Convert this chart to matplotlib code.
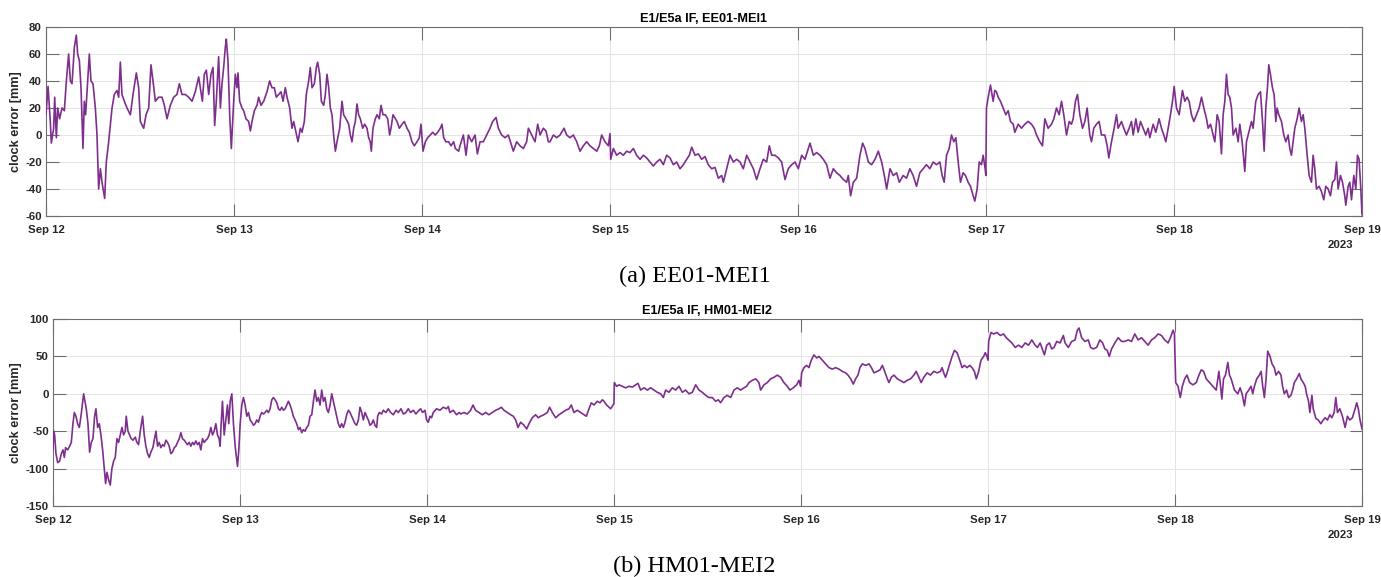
import matplotlib
matplotlib.use("Agg")
import matplotlib.pyplot as plt
import matplotlib.dates as mdates
from datetime import datetime, timedelta

# ---------------------------------------------------------------------------
# Clock error series, E1/E5a ionosphere-free, hours since 2023-09-12 00:00
# ---------------------------------------------------------------------------
start_date = datetime(2023, 9, 12)
n_days = 7
day_labels_fmt = "%b %d"
year_label = "2023"

# EE01-MEI1
ee01_hours = [
    0.0, 0.26, 0.55, 0.68, 0.98, 1.11, 1.32, 1.49, 1.74, 2.04,
    2.34, 2.60, 2.89, 3.11, 3.32, 3.62, 3.87, 4.04, 4.26, 4.47,
    4.72, 4.89, 5.06, 5.32, 5.53, 5.74, 6.0, 6.3, 6.51, 6.72,
    6.94, 7.15, 7.49, 7.70, 8.0, 8.43, 8.72, 9.06, 9.28, 9.49,
    9.70, 10.0, 10.34, 10.77, 11.11, 11.53, 11.83, 12.04, 12.47, 12.77,
    13.11, 13.40, 13.66, 13.96, 14.38, 14.81, 15.11, 15.45, 15.87, 16.3,
    16.72, 17.02, 17.36, 17.79, 18.21, 18.64, 19.06, 19.49, 19.70, 19.96,
    20.21, 20.47, 20.77, 21.06, 21.32, 21.53, 21.74, 22.04, 22.26, 22.47,
    22.68, 22.89, 23.02, 23.23, 23.45, 23.66, 23.96, 24.17, 24.38, 24.51,
    24.72, 25.02, 25.23, 25.53, 25.87, 26.09, 26.3, 26.6, 26.94, 27.15,
    27.45, 27.79, 28.21, 28.55, 28.85, 29.15, 29.40, 29.70, 30.0, 30.26,
    30.55, 30.77, 31.11, 31.40, 31.62, 31.91, 32.17, 32.47, 32.68, 32.98,
    33.23, 33.53, 33.74, 33.96, 34.26, 34.51, 34.68, 34.94, 35.15, 35.45,
    35.66, 35.87, 36.09, 36.3, 36.51, 36.72, 36.94, 37.15, 37.49, 37.79,
    38.0, 38.3, 38.64, 38.85, 39.06, 39.28, 39.49, 39.70, 39.91, 40.13,
    40.43, 40.68, 40.98, 41.19, 41.40, 41.53, 41.74, 42.04, 42.26, 42.55,
    42.77, 43.02, 43.32, 43.62, 43.87, 44.04, 44.30, 44.60, 44.81, 45.11,
    45.45, 45.74, 46.09, 46.38, 46.72, 47.02, 47.36, 47.66, 47.87, 48.13,
    48.43, 48.72, 49.06, 49.36, 49.70, 50.0, 50.34, 50.55, 50.77, 51.06,
    51.40, 51.70, 52.04, 52.26, 52.68,
    52.85, 53.28, 53.62, 53.92, 54.34, 54.77, 55.07, 55.41, 55.83, 56.26,
    56.68, 57.02, 57.45, 57.75, 58.17, 58.6, 59.02, 59.45, 59.66, 60.09,
    60.51, 60.94, 61.36, 61.58, 62.0, 62.43, 62.77, 63.07, 63.49, 63.83,
    64.13, 64.34, 64.77, 65.19, 65.62, 66.13, 66.47, 66.89, 67.32, 67.75,
    68.17, 68.60, 69.02, 69.45, 69.87, 70.3, 70.64, 70.94, 71.36, 71.79,
    72.0, 72.09, 72.43, 72.85, 73.28, 73.70, 74.13, 74.55, 74.98, 75.40,
    75.83, 76.26, 76.68, 77.11, 77.53, 77.96, 78.38, 78.81, 79.23, 79.66,
    80.09, 80.51, 80.94, 81.36, 81.79, 82.13, 82.43, 82.85, 83.28, 83.70,
    84.13, 84.55, 84.98, 85.40, 85.83, 86.26, 86.47, 86.89, 87.32, 87.74,
    88.17, 88.6, 89.02, 89.45, 89.87, 90.30, 90.72, 91.15, 91.57, 92.0,
    92.34, 92.64, 93.06, 93.49, 93.91, 94.34, 94.76, 95.19, 95.62, 96.04,
    96.47, 96.89, 97.32, 97.53, 97.96, 98.38, 98.81, 99.23, 99.66, 100.08,
    100.51, 100.93, 101.36, 101.79, 102.21, 102.42, 102.72, 103.06, 103.49, 103.91,
    104.25, 104.55, 104.98, 105.40, 105.83, 106.25, 106.68, 107.02, 107.32, 107.74,
    108.17, 108.59, 108.93,
    109.43, 109.85, 110.28, 110.70, 111.13, 111.55, 111.98, 112.40, 112.83, 113.26,
    113.68, 114.11, 114.40, 114.66, 114.96, 115.30, 115.60, 115.89, 116.15, 116.45,
    116.74, 117.08, 117.38, 117.72, 118.02, 118.36, 118.57, 118.87, 119.13, 119.42,
    119.64, 119.89, 119.98, 120.06, 120.28, 120.57, 120.91, 121.13, 121.34, 121.55,
    121.85, 122.19, 122.53, 122.83, 123.13, 123.47, 123.68, 124.11, 124.53, 124.96,
    125.38, 125.81, 126.15, 126.45, 126.87, 127.21, 127.51, 127.93, 128.36, 128.66,
    129.0, 129.34, 129.64, 129.93, 130.28, 130.62, 130.91, 131.13, 131.42, 131.68,
    131.98, 132.32, 132.62, 132.91, 133.25, 133.47, 133.76, 134.10, 134.44, 134.74,
    135.17, 135.47, 135.68, 136.02, 136.36, 136.66, 136.87, 137.30, 137.59, 137.93,
    138.27, 138.57, 138.79, 139.13, 139.42, 139.72, 140.06, 140.40, 140.70, 140.91,
    141.34, 141.68, 142.10, 142.40, 142.70, 142.96, 143.25, 143.55, 143.81, 144.02,
    144.32, 144.66, 145.08, 145.38, 145.68, 145.93, 146.23, 146.53, 146.87, 147.21,
    147.51, 147.81, 148.15, 148.36, 148.66, 149.0, 149.21, 149.51, 149.76, 150.06,
    150.27, 150.49, 150.70, 150.91, 151.12, 151.34, 151.55, 151.89, 152.19, 152.40,
    152.70, 153.04, 153.25, 153.46, 153.68, 153.89, 154.10, 154.44, 154.74, 155.04,
    155.30, 155.51, 155.72, 155.93, 156.10, 156.31, 156.57, 156.78, 157.0, 157.16,
    157.38, 157.72, 158.02, 158.27, 158.57, 158.78, 158.99, 159.21, 159.42, 159.72,
    159.97, 160.27, 160.49, 160.70, 161.0, 161.25, 161.55, 161.76, 161.97, 162.19,
    162.53, 162.83, 163.12, 163.38, 163.68, 163.97, 164.23, 164.53, 164.74, 164.95,
    165.25, 165.51, 165.80, 165.93, 166.23, 166.44, 166.66, 166.95, 167.21, 167.42,
    167.63, 167.85, 168.0,
]
ee01_mm = [
    15, 36, 10, -6, 5, 28, -2, 20, 12, 20,
    18, 40, 60, 40, 38, 65, 74, 60, 55, 35,
    -10, 25, 15, 40, 60, 40, 38, 20, 0, -40,
    -25, -35, -47, -20, -5, 20, 30, 33, 28, 54,
    30, 25, 20, 15, 30, 46, 35, 10, 5, 15,
    20, 52, 40, 25, 28, 28, 22, 12, 22, 28,
    30, 38, 30, 30, 28, 25, 32, 43, 35, 25,
    45, 48, 30, 45, 50, 7, 25, 58, 20, 38,
    50, 65, 71, 55, 15, -10, 25, 45, 35, 46,
    25, 20, 18, 12, 10, 3, 10, 18, 22, 28,
    22, 25, 32, 40, 35, 35, 28, 30, 32, 25,
    35, 28, 20, 5, 10, 2, -5, 5, 2, 10,
    30, 40, 50, 35, 38, 50, 54, 45, 25, 22,
    30, 45, 35, 20, 15, 0, -12, -5, 5, 25,
    15, 12, 8, 0, -5, 5, 10, 23, 15, 12,
    5, 8, 5, -2, -5, -12, 5, 12, 15, 12,
    22, 15, 15, 12, 0, 5, 15, 12, 10, 5,
    8, 10, 5, 2, -5, -8, -5, -2, 8, -12,
    -5, -2, 0, 2, 0, 2, 5, 8, -2, -5,
    -5, -8, -5, -10, -12,
    -8, 0, -15, 0, -5, 0, -14, -5, -5, 0,
    5, 10, 13, 5, 0, -2, 0, -8, -12, -5,
    -8, -10, -5, 5, 0, -5, 8, 0, 5, 3,
    -5, -5, 0, -2, 0, 5, 0, -2, 0, -5,
    -12, -8, -5, -8, -10, -12, -8, 0, -5, -8,
    1, -18, -10, -15, -13, -15, -12, -13, -10, -15,
    -18, -15, -17, -20, -23, -20, -18, -22, -15, -17,
    -22, -20, -25, -22, -18, -15, -9, -15, -14, -18,
    -16, -22, -25, -24, -32, -30, -35, -25, -15, -20,
    -18, -20, -25, -15, -20, -25, -33, -25, -18, -20,
    -8, -15, -15, -17, -20, -33, -25, -22, -20, -25,
    -15, -18, -10, -6, -15, -13, -15, -18, -22, -32,
    -25, -28, -30, -33, -35, -30, -45, -35, -32, -15,
    -6, -10, -20, -22, -18, -12, -20, -30, -40, -25,
    -30, -28, -35,
    -30, -32, -25, -30, -38, -28, -25, -22, -25, -20,
    -22, -20, -30, -35, -15, -10, 0, -5, -2, -20,
    -35, -28, -30, -35, -38, -45, -49, -40, -20, -22,
    -15, -25, -30, 20, 28, 37, 25, 33, 32, 28,
    25, 20, 15, 18, 10, 8, 2, 8, 5, 8,
    10, 8, 5, 0, -5, -8, 12, 5, 8, 12,
    20, 15, 25, 15, 0, 10, 8, 12, 25, 30,
    15, 5, 10, 20, 0, -5, 5, 8, 10, 0,
    0, -8, -17, -5, 5, 15, 5, 10, 5, 0,
    5, 10, 0, 12, 2, 10, 5, 0, 5, -2,
    8, 2, 12, 5, 0, -5, 5, 15, 25, 36,
    20, 15, 33, 25, 28, 25, 15, 10, 15, 20,
    28, 20, 12, 5, 8, 0, -5, 15, 10, -14,
    15, 25, 45, 30, 28, 20, 0, 5, -5, 8,
    -5, -27, -5, 0, 5, 10, 5, 25, 30, 32,
    10, -12, 20, 35, 52, 45, 35, 30, 10, 20,
    15, 10, 0, -5, 0, -10, -15, -5, 5, 12,
    20, 10, 15, 5, -15, -30, -35, -15, -25, -40,
    -38, -42, -48, -38, -40, -45, -35, -33, -20, -40,
    -30, -35, -45, -52, -38, -35, -48, -30, -40, -15,
    -18, -40, -59,
]

# HM01-MEI2
hm01_hours = [
    0.0, 0.09, 0.21, 0.38, 0.60, 0.85, 1.07, 1.28, 1.45, 1.62,
    1.88, 2.14, 2.35, 2.56, 2.74, 2.95, 3.16, 3.38, 3.59, 3.76,
    3.93, 4.10, 4.27, 4.49, 4.70, 4.91, 5.13, 5.34, 5.51, 5.73,
    5.94, 6.15, 6.37, 6.58, 6.75, 6.92, 7.14, 7.35, 7.56, 7.78,
    7.99, 8.21, 8.42, 8.63, 8.85, 9.06, 9.27, 9.40, 9.62, 9.83,
    10.04, 10.26, 10.56, 10.77, 10.98, 11.20, 11.50, 11.71, 11.92, 12.14,
    12.35, 12.56, 12.82, 13.03, 13.21, 13.42, 13.63, 13.85, 14.06, 14.27,
    14.49, 14.70, 14.91, 15.13, 15.34, 15.56, 15.77, 15.98, 16.20, 16.41,
    16.62, 16.84, 17.05, 17.26, 17.48, 17.69, 17.91, 18.12, 18.33, 18.55,
    18.76, 18.97, 19.19, 19.40, 19.62, 19.83, 20.04, 20.26, 20.47, 20.68,
    20.90, 21.11, 21.32, 21.45, 21.58, 21.75, 21.97, 22.18, 22.39, 22.56,
    22.74, 22.95, 23.16, 23.38, 23.55, 23.68, 23.85, 24.02, 24.23, 24.44,
    24.66, 24.87, 25.09, 25.30, 25.51, 25.73, 25.94, 26.15, 26.37, 26.58,
    26.79, 27.01, 27.22, 27.44, 27.65, 27.86, 28.08, 28.29, 28.50, 28.72,
    28.93, 29.15, 29.36, 29.57, 29.79, 30.0, 30.21, 30.43, 30.64, 30.85,
    31.07, 31.28, 31.50, 31.71, 31.92, 32.14, 32.35, 32.56, 32.78, 32.99,
    33.21, 33.42, 33.63, 33.85, 34.06, 34.27, 34.49, 34.70, 34.91, 35.13,
    35.34, 35.56, 35.77, 35.98, 36.20, 36.41, 36.62, 36.84, 37.05, 37.26,
    37.48, 37.69, 37.91, 38.12, 38.33, 38.55, 38.76, 38.97, 39.19, 39.40,
    39.62, 39.83, 40.04, 40.26, 40.47, 40.68, 40.90, 41.11, 41.32, 41.54,
    41.67, 41.88, 42.18, 42.39, 42.74, 43.03, 43.33, 43.68, 44.02, 44.32,
    44.66, 44.96, 45.30, 45.60, 45.90, 46.24, 46.58, 46.88, 47.18, 47.44,
    47.74, 47.95, 48.16, 48.38, 48.59, 48.80, 49.23, 49.66, 50.09, 50.51,
    50.73, 50.94, 51.37, 51.79, 52.14,
    52.32, 52.74, 53.17, 53.60, 53.90, 54.24, 54.67, 55.10, 55.53, 55.95,
    56.38, 56.81, 57.24, 57.54, 57.88, 58.31, 58.73, 59.08, 59.38, 59.68,
    60.02, 60.45, 60.79, 61.09, 61.51, 61.94, 62.28, 62.58, 63.01, 63.44,
    63.74, 64.08, 64.51, 64.94, 65.36, 65.79, 66.22, 66.52, 66.86, 67.29,
    67.72, 68.15, 68.45, 68.79, 69.09, 69.43, 69.86, 70.20, 70.50, 70.71,
    71.05, 71.35, 71.57, 71.87, 72.0, 72.04, 72.34, 72.64, 73.07, 73.49,
    73.92, 74.35, 74.78, 75.08, 75.42, 75.85, 76.28, 76.70, 77.13, 77.56,
    77.99, 78.33, 78.63, 79.05, 79.48, 79.91, 80.34, 80.77, 81.19, 81.62,
    82.05, 82.48, 82.91, 83.33, 83.76, 84.19, 84.62, 85.04, 85.39, 85.68,
    86.11, 86.54, 86.97, 87.40, 87.82, 88.25, 88.68, 89.02, 89.32, 89.75,
    90.18, 90.60, 90.82, 91.25, 91.67, 92.10, 92.53, 92.96, 93.39, 93.81,
    94.24, 94.58, 95.01, 95.44, 95.74, 95.95, 96.08, 96.38, 96.72, 97.02,
    97.32, 97.66, 98.01, 98.31, 98.73, 99.16, 99.59, 100.02, 100.44, 100.87,
    101.30, 101.73, 102.03, 102.37, 102.71, 103.01, 103.31, 103.57, 103.87, 104.30,
    104.73, 105.03, 105.37, 105.80, 106.14, 106.44, 106.74, 107.08, 107.29, 107.59,
    107.93, 108.36, 108.70,
    109.21, 109.63, 110.06, 110.49, 110.78, 111.13, 111.42, 111.76, 112.19, 112.62,
    113.04, 113.47, 113.90, 114.11, 114.32, 114.54, 114.75, 115.09, 115.39, 115.69,
    116.03, 116.37, 116.67, 116.97, 117.31, 117.65, 117.95, 118.25, 118.50, 118.80,
    119.10, 119.44, 119.65, 119.87, 120.0, 120.08, 120.38, 120.72, 121.15, 121.57,
    122.0, 122.34, 122.64, 123.06, 123.49, 123.92, 124.34, 124.77, 125.20, 125.62,
    126.05, 126.35, 126.69, 127.03, 127.24, 127.54, 127.88, 128.18, 128.48, 128.82,
    129.25, 129.67, 129.89, 130.31, 130.74, 131.17, 131.46, 131.68, 132.02, 132.44,
    132.87, 133.17, 133.51, 133.94, 134.36, 134.71, 135.0, 135.30, 135.56, 135.86,
    136.28, 136.71, 137.14, 137.56, 137.99, 138.42, 138.84, 139.27, 139.70, 140.12,
    140.55, 140.98, 141.40, 141.83, 142.26, 142.68, 143.11, 143.41, 143.75, 143.92,
    144.0, 144.09, 144.39, 144.68, 144.94, 145.24, 145.54, 145.88, 146.30, 146.73,
    147.07, 147.37, 147.67, 148.01, 148.44, 148.86, 149.29, 149.63, 149.80, 150.01,
    150.23, 150.48, 150.78, 150.99, 151.21, 151.63, 152.06, 152.36, 152.61, 152.91,
    153.13, 153.47, 153.76, 153.98, 154.19, 154.49, 154.83, 155.05, 155.26, 155.47,
    155.69, 155.90, 156.20, 156.45, 156.75, 156.96, 157.30, 157.60, 157.81, 158.03,
    158.32, 158.58, 158.88, 159.10, 159.31, 159.61, 159.95, 160.16, 160.46, 160.71,
    160.88, 161.14, 161.31, 161.57, 161.74, 162.08, 162.38, 162.72, 163.02, 163.27,
    163.57, 163.87, 164.13, 164.43, 164.64, 164.85, 165.15, 165.49, 165.83, 166.13,
    166.43, 166.77, 167.11, 167.32, 167.53, 167.75, 168.0,
]
hm01_mm = [
    -74, -50, -55, -80, -92, -90, -80, -75, -85, -72,
    -75, -70, -65, -40, -25, -30, -40, -45, -30, -15,
    0, -10, -20, -40, -78, -65, -60, -30, -20, -45,
    -40, -55, -75, -100, -120, -105, -115, -122, -100, -90,
    -85, -60, -65, -55, -45, -55, -50, -30, -50, -55,
    -60, -62, -58, -65, -68, -50, -30, -55, -70, -80,
    -85, -78, -72, -60, -50, -70, -65, -72, -68, -70,
    -62, -65, -70, -80, -78, -72, -70, -65, -60, -52,
    -60, -62, -65, -68, -65, -70, -65, -68, -63, -68,
    -65, -75, -60, -65, -62, -60, -55, -45, -55, -50,
    -40, -55, -60, -70, -40, -10, -55, -35, -15, -40,
    -10, 0, -40, -70, -85, -97, -75, -40, -15, -5,
    -15, -30, -25, -35, -38, -42, -40, -35, -38, -30,
    -25, -27, -25, -22, -25, -20, -8, -5, -8, -12,
    -20, -22, -18, -22, -20, -15, -10, -15, -22, -30,
    -35, -40, -48, -45, -52, -48, -50, -45, -42, -30,
    -28, -10, 5, -10, -5, -15, 5, -10, -5, -20,
    -25, -15, 0, -10, -20, -30, -40, -45, -40, -45,
    -38, -28, -22, -25, -30, -35, -40, -42, -35, -18,
    -25, -35, -25, -30, -35, -42, -40, -35, -42, -45,
    -30, -25, -27, -22, -25, -20, -25, -28, -22, -25,
    -20, -27, -25, -20, -25, -22, -27, -23, -20, -25,
    -22, -35, -38, -30, -32, -25, -20, -22, -18, -20,
    -17, -25, -22, -28, -25,
    -27, -25, -27, -22, -15, -22, -25, -28, -25, -28,
    -25, -22, -20, -18, -22, -25, -28, -30, -35, -45,
    -38, -42, -47, -40, -32, -28, -32, -30, -28, -25,
    -18, -25, -32, -28, -25, -22, -20, -15, -25, -22,
    -25, -28, -30, -20, -12, -15, -10, -12, -8, -10,
    -15, -18, -20, -15, -13, 15, 10, 12, 10, 8,
    10, 9, 12, 14, 5, 8, 5, 8, 5, 2,
    0, -5, 5, 2, 8, 5, 10, 2, 5, 0,
    2, 12, 5, 2, -2, -5, -5, -10, -8, -12,
    -5, -2, -5, 5, 8, 5, 8, 10, 15, 18,
    20, 15, 5, 12, 15, 20, 22, 25, 22, 15,
    10, 5, 8, 12, 18, 10, 28, 35, 38, 35,
    45, 52, 48, 50, 45, 40, 35, 33, 35, 33,
    30, 28, 25, 20, 13, 20, 25, 35, 40, 38,
    40, 35, 28, 30, 32, 38, 30, 20, 15, 22,
    25, 20, 18,
    15, 18, 20, 25, 30, 22, 15, 22, 28, 25,
    30, 28, 30, 35, 28, 22, 28, 40, 50, 58,
    55, 45, 35, 38, 35, 38, 35, 30, 20, 30,
    45, 50, 55, 50, 45, 70, 82, 80, 82, 78,
    80, 75, 72, 68, 62, 65, 62, 68, 65, 72,
    65, 62, 68, 58, 52, 65, 68, 60, 62, 70,
    68, 78, 68, 62, 70, 72, 85, 88, 75, 70,
    72, 62, 60, 62, 72, 68, 60, 58, 50, 60,
    68, 75, 70, 70, 72, 70, 80, 72, 75, 70,
    65, 72, 75, 80, 78, 72, 68, 75, 85, 80,
    50, 15, 10, -5, 10, 20, 25, 15, 12, 15,
    25, 32, 30, 20, 15, 10, 5, 30, 15, -7,
    20, 25, 42, 25, 20, 5, 0, 8, 0, -16,
    0, 5, 10, 0, 10, 20, 25, 30, 10, -5,
    20, 57, 50, 40, 35, 25, 30, 25, 10, 0,
    5, -5, -2, 5, 15, 20, 27, 20, 15, 10,
    0, -10, -25, -2, -20, -33, -35, -40, -35, -32,
    -35, -28, -32, -25, -5, -25, -20, -30, -45, -30,
    -35, -32, -20, -12, -20, -35, -47,
]

panel_titles = ["E1/E5a IF, EE01-MEI1", "E1/E5a IF, HM01-MEI2"]
panel_captions = ["(a) EE01-MEI1", "(b) HM01-MEI2"]
y_label = "clock error [mm]"
ee01_yticks = [-60, -40, -20, 0, 20, 40, 60, 80]
hm01_yticks = [-150, -100, -50, 0, 50, 100]

for name, t, v in (("EE01", ee01_hours, ee01_mm), ("HM01", hm01_hours, hm01_mm)):
    if len(t) != len(v):
        raise ValueError(f"{name}: {len(t)} times vs {len(v)} values")

# ---------------------------------------------------------------------------
# Styling
# ---------------------------------------------------------------------------
plt.rcParams["font.family"] = ["Liberation Sans", "DejaVu Sans"]
plt.rcParams["axes.unicode_minus"] = False
line_color = (0.494, 0.184, 0.556)
axis_gray = "#6e6e6e"
text_gray = "#262626"
grid_gray = "#e4e4e4"
label_size = 8.2
title_size = 9.2

W, H = 1381, 577
fig = plt.figure(figsize=(W / 100, H / 100), dpi=100, facecolor="white")

# axes boxes in pixels: left, top, right, bottom
boxes = [(46, 27, 1362, 216), (53, 319, 1362, 506)]
series = [(ee01_hours, ee01_mm, ee01_yticks), (hm01_hours, hm01_mm, hm01_yticks)]


def to_dates(hours):
    return [start_date + timedelta(hours=h) for h in hours]


for i, ((l, t, r, b), (hrs, vals, yt)) in enumerate(zip(boxes, series)):
    ax = fig.add_axes([l / W, 1 - b / H, (r - l) / W, (b - t) / H])
    ax.plot(to_dates(hrs), vals, color=line_color, lw=1.2, zorder=3)

    ax.set_xlim(start_date, start_date + timedelta(days=n_days))
    ax.set_ylim(yt[0], yt[-1])
    ax.set_yticks(yt)
    ax.xaxis.set_major_locator(mdates.DayLocator())
    ax.xaxis.set_major_formatter(mdates.DateFormatter(day_labels_fmt))

    ax.grid(True, color=grid_gray, lw=0.7, zorder=0)
    ax.set_axisbelow(True)
    ax.tick_params(direction="in", length=9, width=0.8, color=axis_gray,
                   top=True, right=True, labelsize=label_size,
                   labelcolor=text_gray)
    ax.tick_params(axis="x", pad=6.5)
    ax.tick_params(axis="y", pad=3)
    for lbl in ax.get_xticklabels() + ax.get_yticklabels():
        lbl.set_fontweight("bold")
    for sp in ax.spines.values():
        sp.set_color(axis_gray)
        sp.set_linewidth(0.8)

    # title above the box
    ax.text(0.5, 1 + 8 / (b - t), panel_titles[i], transform=ax.transAxes,
            ha="center", va="center", fontsize=title_size, fontweight="bold",
            color="black")

    # y label
    fig.text(16 / W, 1 - ((t + b) / 2) / H, y_label, rotation=90,
             ha="center", va="center", fontsize=title_size, fontweight="bold",
             color=text_gray)

    # year under the last date tick
    fig.text(1340 / W, 1 - (b + 29) / H, year_label, ha="center",
             va="center", fontsize=label_size, fontweight="bold",
             color=text_gray)

    # figure caption
    fig.text(0.503, 1 - (b + 60) / H, panel_captions[i],
             family=["Liberation Serif", "DejaVu Serif"], fontsize=17.5,
             ha="center", va="center", color="black")

fig.savefig("out.png", dpi=100, facecolor="white")
